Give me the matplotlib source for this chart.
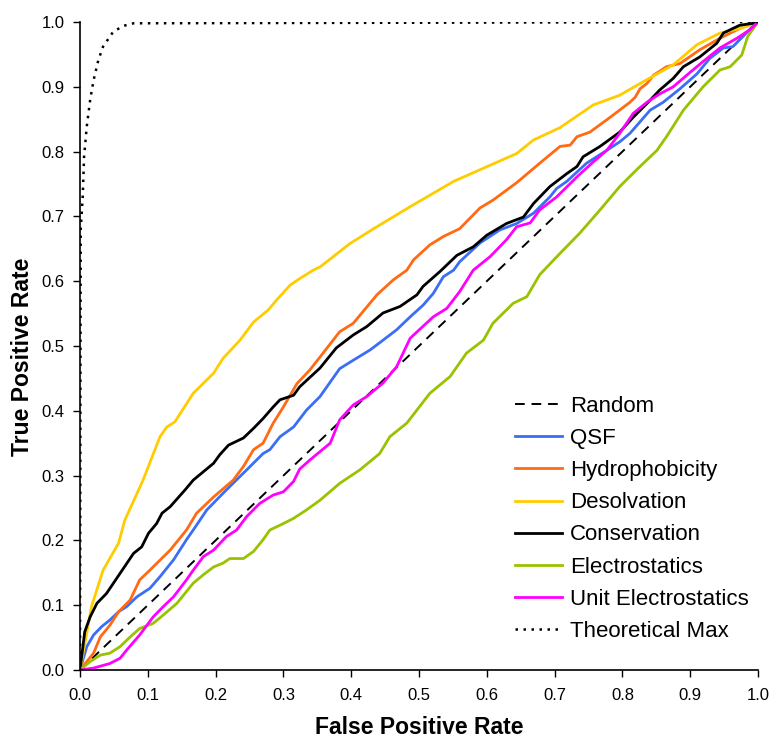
import matplotlib
matplotlib.use("Agg")
import matplotlib.pyplot as plt

plt.rcParams['font.family'] = ['Liberation Sans', 'DejaVu Sans']

# ---- data ----
random_x = [0.0, 1.0]
random_y = [0.0, 1.0]

qsf_x = [0, 0.01, 0.02, 0.032, 0.044, 0.057, 0.069, 0.084, 0.103, 0.118, 0.138, 0.157, 0.167, 0.187, 0.201, 0.216, 0.246, 0.27, 0.28, 0.295, 0.315, 0.334, 0.354, 0.383, 0.403, 0.428, 0.447, 0.467, 0.487, 0.506, 0.521, 0.536, 0.551, 0.56, 0.59, 0.619, 0.644, 0.669, 0.693, 0.703, 0.718, 0.747, 0.777, 0.796, 0.811, 0.826, 0.841, 0.86, 0.885, 0.91, 0.929, 0.949, 0.963, 0.978, 0.993, 1.0]
qsf_y = [0, 0.036, 0.054, 0.067, 0.077, 0.09, 0.098, 0.113, 0.126, 0.144, 0.17, 0.201, 0.216, 0.247, 0.262, 0.278, 0.309, 0.334, 0.34, 0.36, 0.375, 0.401, 0.422, 0.465, 0.478, 0.494, 0.509, 0.525, 0.545, 0.563, 0.581, 0.607, 0.617, 0.63, 0.659, 0.679, 0.689, 0.705, 0.73, 0.743, 0.754, 0.782, 0.802, 0.815, 0.828, 0.846, 0.864, 0.876, 0.897, 0.92, 0.944, 0.96, 0.962, 0.978, 0.994, 1.0]

hyd_x = [0, 0.02, 0.03, 0.044, 0.057, 0.074, 0.088, 0.103, 0.133, 0.157, 0.172, 0.197, 0.226, 0.241, 0.256, 0.27, 0.285, 0.3, 0.32, 0.339, 0.354, 0.383, 0.403, 0.438, 0.462, 0.482, 0.492, 0.516, 0.536, 0.56, 0.59, 0.609, 0.644, 0.678, 0.708, 0.723, 0.733, 0.752, 0.782, 0.811, 0.819, 0.826, 0.836, 0.846, 0.865, 0.885, 0.914, 0.944, 0.973, 1.0]
hyd_y = [0, 0.026, 0.051, 0.069, 0.09, 0.108, 0.139, 0.154, 0.185, 0.216, 0.242, 0.267, 0.293, 0.314, 0.34, 0.35, 0.381, 0.406, 0.442, 0.463, 0.483, 0.522, 0.535, 0.579, 0.602, 0.617, 0.633, 0.656, 0.669, 0.681, 0.713, 0.725, 0.752, 0.782, 0.808, 0.81, 0.823, 0.83, 0.853, 0.876, 0.884, 0.897, 0.905, 0.918, 0.931, 0.936, 0.957, 0.975, 0.99, 1.0]

des_x = [0, 0.017, 0.034, 0.057, 0.066, 0.093, 0.118, 0.128, 0.14, 0.167, 0.197, 0.211, 0.236, 0.256, 0.278, 0.29, 0.31, 0.324, 0.344, 0.354, 0.398, 0.433, 0.487, 0.551, 0.605, 0.644, 0.669, 0.708, 0.757, 0.796, 0.831, 0.875, 0.91, 0.944, 0.973, 1.0]
des_y = [0, 0.098, 0.154, 0.196, 0.231, 0.293, 0.36, 0.375, 0.383, 0.427, 0.458, 0.481, 0.509, 0.537, 0.556, 0.571, 0.594, 0.604, 0.617, 0.622, 0.658, 0.681, 0.715, 0.754, 0.779, 0.797, 0.818, 0.837, 0.872, 0.887, 0.908, 0.934, 0.965, 0.983, 0.99, 1.0]

con_x = [0, 0.007, 0.015, 0.025, 0.039, 0.059, 0.079, 0.091, 0.101, 0.113, 0.121, 0.133, 0.155, 0.167, 0.197, 0.206, 0.219, 0.241, 0.256, 0.27, 0.285, 0.295, 0.315, 0.324, 0.354, 0.378, 0.403, 0.423, 0.447, 0.472, 0.497, 0.506, 0.531, 0.556, 0.58, 0.6, 0.629, 0.654, 0.669, 0.693, 0.718, 0.733, 0.742, 0.767, 0.796, 0.816, 0.836, 0.855, 0.875, 0.89, 0.914, 0.939, 0.949, 0.973, 0.993, 1.0]
con_y = [0, 0.059, 0.082, 0.103, 0.118, 0.149, 0.18, 0.19, 0.211, 0.226, 0.242, 0.252, 0.278, 0.293, 0.319, 0.332, 0.347, 0.358, 0.373, 0.388, 0.406, 0.417, 0.424, 0.437, 0.466, 0.497, 0.517, 0.53, 0.551, 0.561, 0.579, 0.592, 0.615, 0.64, 0.653, 0.671, 0.689, 0.699, 0.72, 0.746, 0.766, 0.777, 0.792, 0.808, 0.83, 0.853, 0.874, 0.895, 0.913, 0.931, 0.946, 0.967, 0.983, 0.995, 0.998, 1.0]

ele_x = [0, 0.015, 0.03, 0.044, 0.059, 0.074, 0.088, 0.108, 0.123, 0.143, 0.167, 0.182, 0.197, 0.211, 0.221, 0.241, 0.256, 0.27, 0.28, 0.3, 0.315, 0.334, 0.354, 0.383, 0.413, 0.442, 0.457, 0.482, 0.516, 0.546, 0.57, 0.595, 0.609, 0.639, 0.659, 0.678, 0.708, 0.737, 0.767, 0.796, 0.821, 0.851, 0.865, 0.89, 0.919, 0.944, 0.959, 0.976, 0.985, 1.0]
ele_y = [0, 0.013, 0.023, 0.026, 0.036, 0.051, 0.064, 0.072, 0.085, 0.103, 0.134, 0.147, 0.159, 0.165, 0.172, 0.172, 0.183, 0.201, 0.216, 0.226, 0.234, 0.247, 0.262, 0.288, 0.309, 0.334, 0.36, 0.381, 0.427, 0.453, 0.489, 0.509, 0.535, 0.566, 0.576, 0.61, 0.643, 0.674, 0.71, 0.746, 0.772, 0.802, 0.823, 0.864, 0.9, 0.926, 0.931, 0.949, 0.978, 1.0]

uel_x = [0, 0.02, 0.044, 0.059, 0.069, 0.088, 0.108, 0.123, 0.138, 0.157, 0.167, 0.182, 0.197, 0.216, 0.231, 0.246, 0.265, 0.285, 0.3, 0.315, 0.324, 0.339, 0.369, 0.383, 0.403, 0.423, 0.447, 0.467, 0.487, 0.521, 0.541, 0.56, 0.58, 0.605, 0.629, 0.644, 0.664, 0.678, 0.703, 0.733, 0.757, 0.777, 0.796, 0.816, 0.836, 0.855, 0.875, 0.895, 0.919, 0.944, 0.969, 0.988, 1.0]
uel_y = [0, 0.003, 0.01, 0.018, 0.031, 0.054, 0.082, 0.098, 0.113, 0.139, 0.154, 0.175, 0.185, 0.206, 0.216, 0.237, 0.257, 0.27, 0.275, 0.291, 0.31, 0.324, 0.35, 0.386, 0.409, 0.422, 0.443, 0.468, 0.512, 0.545, 0.558, 0.584, 0.617, 0.638, 0.664, 0.684, 0.69, 0.71, 0.73, 0.761, 0.784, 0.802, 0.828, 0.859, 0.876, 0.889, 0.9, 0.918, 0.939, 0.96, 0.975, 0.988, 1.0]

max_x = [0, 0.001, 0.004, 0.006, 0.01, 0.015, 0.02, 0.027, 0.034, 0.049, 0.064, 0.079, 1.0]
max_y = [0, 0.679, 0.73, 0.792, 0.839, 0.88, 0.91, 0.941, 0.962, 0.985, 0.994, 0.998, 1.0]

ticks = [0.0, 0.1, 0.2, 0.3, 0.4, 0.5, 0.6, 0.7, 0.8, 0.9, 1.0]
tick_labels = ['0.0', '0.1', '0.2', '0.3', '0.4', '0.5', '0.6', '0.7', '0.8', '0.9', '1.0']

# ---- figure ----
W, H = 772, 740
fig = plt.figure(figsize=(W / 100, H / 100), dpi=100)
ax = fig.add_axes([80 / W, 70 / H, 678 / W, 648 / H])

lw = 2.0
ax.plot(random_x, random_y, color='black', lw=1.4, ls=(0, (5, 3.5)), label='Random')
ax.plot(qsf_x, qsf_y, color='#3A6EF5', lw=lw, label='QSF')
ax.plot(hyd_x, hyd_y, color='#FF6A13', lw=lw, label='Hydrophobicity')
ax.plot(des_x, des_y, color='#FFCC00', lw=lw, label='Desolvation')
ax.plot(con_x, con_y, color='black', lw=lw, label='Conservation')
ax.plot(ele_x, ele_y, color='#99C200', lw=lw, label='Electrostatics')
ax.plot(uel_x, uel_y, color='#FF00FF', lw=lw, label='Unit Electrostatics')
ax.plot(max_x, max_y, color='black', lw=1.8, ls=(0, (1, 2.2)), label='Theoretical Max')

ax.set_xlim(0, 1)
ax.set_ylim(0, 1)
ax.set_xticks(ticks)
ax.set_xticklabels(tick_labels)
ax.set_yticks(ticks)
ax.set_yticklabels(tick_labels)
ax.tick_params(direction='out', length=5, width=1, labelsize=12, color='black')
ax.tick_params(axis='x', pad=8)
ax.tick_params(axis='y', pad=6)
for s in ['top', 'right']:
    ax.spines[s].set_visible(False)
for s in ['left', 'bottom']:
    ax.spines[s].set_linewidth(1.2)

ax.set_xlabel('False Positive Rate', fontsize=16.5, fontweight='bold')
ax.xaxis.set_label_coords((419 - 80) / 678, -(728 - 670) / 648, transform=ax.transAxes)
ax.xaxis.label.set_verticalalignment('center')
ax.set_ylabel('True Positive Rate', fontsize=16.5, fontweight='bold')
ax.yaxis.set_label_coords(-(80 - 23) / 678, (670 - 357) / 648, transform=ax.transAxes)
ax.yaxis.label.set_verticalalignment('center')

leg = ax.legend(loc='upper left', bbox_to_anchor=(515 / W, 1 - 396 / H),
                bbox_transform=fig.transFigure, frameon=False,
                fontsize=16, handlelength=2.12, handletextpad=0.36,
                labelspacing=0.5, borderpad=0, borderaxespad=0)

fig.savefig('out.png', dpi=100)
